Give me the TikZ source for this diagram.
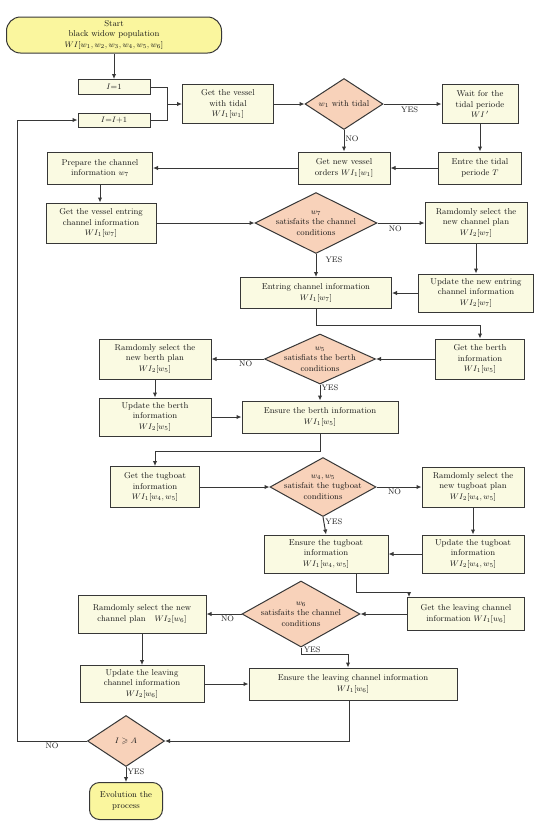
\documentclass[tikz,border=0pt]{standalone}
\usepackage{amssymb}
\usetikzlibrary{shapes.geometric,arrows.meta}
\definecolor{boxfill}{RGB}{250,250,226}
\definecolor{dfill}{RGB}{248,210,186}
\definecolor{sfill}{RGB}{250,246,158}
\definecolor{ln}{RGB}{55,55,55}
\begin{document}
\begin{tikzpicture}[x=1pt,y=-1pt,
  every node/.style={font=\fontsize{8.5}{10.5}\selectfont, text=black!90},
  box/.style={draw=ln, line width=1pt, fill=boxfill, align=center, inner sep=1pt},
  term/.style={draw=ln, line width=1pt, fill=sfill, align=center, rounded corners=12pt, inner sep=1pt},
  dec/.style={draw=ln, line width=1pt, fill=dfill, diamond, inner sep=0pt},
  dtext/.style={align=center, inner sep=0pt},
  arr/.style={draw=ln, line width=1pt, -{Latex[length=5pt,width=4.5pt]}},
  ln/.style={draw=ln, line width=1pt},
  lab/.style={font=\fontsize{8}{9}\selectfont, inner sep=1pt}]
\useasboundingbox (0,0) rectangle (550,828);
\fill[white] (0,0) rectangle (550,828);

\node[term, minimum width=215pt, minimum height=36pt, rounded corners=14pt] (start) at (114,35) {Start\\black widow population\\$WI[w_1,w_2,w_3,w_4,w_5,w_6]$};
\node[box, minimum width=72pt, minimum height=15pt] (i1) at (114,87) {$I{=}1$};
\node[box, minimum width=72pt, minimum height=14pt] (ii) at (114,120) {$I{=}I{+}1$};
\node[box, minimum width=91pt, minimum height=39pt] (gv) at (228,104) {Get the vessel\\with tidal\\$WI_1[w_1]$};
\node[dec, minimum width=78pt, minimum height=51pt] (d1) at (344,104) {};
\node[dtext] (d1t) at (d1) {$w_1$ with tidal};
\node[box, minimum width=76pt, minimum height=39pt] (wt) at (480,104) {Wait for the\\tidal periode\\$WI\,'$};
\node[box, minimum width=83pt, minimum height=32pt] (et) at (480,168) {Entre the tidal\\periode $T$};
\node[box, minimum width=92pt, minimum height=32pt] (gn) at (344,168) {Get new vessel\\orders $WI_1[w_1]$};
\node[box, minimum width=105pt, minimum height=32pt] (pc) at (100,168) {Prepare the channel\\information $w_7$};
\node[box, minimum width=110pt, minimum height=40pt] (ge) at (101,223) {Get the vessel entring\\channel information\\$WI_1[w_7]$};
\node[dec, minimum width=122pt, minimum height=61pt] (d2) at (316,223) {};
\node[dtext] (d2t) at (d2) {$w_7$\\satisfaits the channel\\conditions};
\node[box, minimum width=102pt, minimum height=41pt] (rc) at (476,223) {Ramdomly select the\\new channel plan\\$WI_2[w_7]$};
\node[box, minimum width=115pt, minimum height=38pt] (uc) at (476,293) {Update the new entring\\channel information\\$WI_2[w_7]$};
\node[box, minimum width=151pt, minimum height=31pt] (ec) at (316,293) {Entring channel information\\$WI_1[w_7]$};
\node[box, minimum width=89pt, minimum height=40pt] (gb) at (480,359) {Get the berth\\information\\$WI_1[w_5]$};
\node[dec, minimum width=111pt, minimum height=50pt] (d3) at (320,359) {};
\node[dtext] (d3t) at (d3) {$w_5$\\satisfiats the berth\\conditions};
\node[box, minimum width=112pt, minimum height=40pt] (rb) at (155,359) {Ramdomly select the\\new berth plan\\$WI_2[w_5]$};
\node[box, minimum width=112pt, minimum height=38pt] (ub) at (155,417) {Update the berth\\information\\$WI_2[w_5]$};
\node[box, minimum width=156pt, minimum height=32pt] (eb) at (320,417) {Ensure the berth information\\$WI_1[w_5]$};
\node[box, minimum width=89pt, minimum height=41pt] (gt) at (155,487) {Get the tugboat\\information\\$WI_1[w_4,w_5]$};
\node[dec, minimum width=106pt, minimum height=59pt] (d4) at (323,487) {};
\node[dtext] (d4t) at (d4) {$w_4,w_5$\\satisfait the tugboat\\conditions};
\node[box, minimum width=102pt, minimum height=40pt] (rt) at (473,487) {Ramdomly select the\\new tugboat plan\\$WI_2[w_4,w_5]$};
\node[box, minimum width=102pt, minimum height=38pt] (ut) at (473,554) {Update the tugboat\\information\\$WI_2[w_4,w_5]$};
\node[box, minimum width=124pt, minimum height=38pt] (etg) at (326,554) {Ensure the tugboat\\information\\$WI_1[w_4,w_5]$};
\node[box, minimum width=117pt, minimum height=33pt] (gl) at (466,614) {Get the leaving channel\\information $WI_1[w_6]$};
\node[dec, minimum width=118pt, minimum height=66pt] (d5) at (301,614) {};
\node[dtext] (d5t) at (d5) {$w_6$\\satisfaits the channel\\conditions};
\node[box, minimum width=128pt, minimum height=38pt] (rl) at (142,614) {Ramdomly select the new\\channel plan \ \ $WI_2[w_6]$};
\node[box, minimum width=124pt, minimum height=37pt] (ul) at (142,684) {Update the leaving\\channel information\\$WI_2[w_6]$};
\node[box, minimum width=208pt, minimum height=32pt] (el) at (353,684) {Ensure the leaving channel information\\$WI_1[w_6]$};
\node[dec, minimum width=77pt, minimum height=51pt] (d6) at (126,741) {};
\node[dtext] (d6t) at (d6) {$I\geqslant A$};
\node[term, minimum width=73pt, minimum height=37pt, rounded corners=10pt] (ev) at (126,801) {Evolution the\\process};

% connectors
\draw[arr] (start.south) -- (i1.north);
\coordinate (j1) at (167,104);
\draw[ln] (i1.east) -| (j1);
\draw[ln] (ii.east) -| (j1);
\draw[arr] (j1) -- (gv.west);
\draw[arr] (gv.east) -- (d1.west);
\draw[arr] (d1.east) -- node[lab, below, pos=0.45, yshift=-1pt]{YES} (wt.west);
\draw[arr] (wt.south) -- (et.north);
\draw[arr] (et.west) -- (gn.east);
\draw[arr] (d1.south) -- node[lab, right, pos=0.4]{NO} (gn.north);
\draw[arr] (gn.west) -- (pc.east);
\draw[arr] (pc.south) -- (pc.south |- ge.north);
\draw[arr] (ge.east) -- (d2.west);
\draw[arr] (d2.east) -- node[lab, below, pos=0.38, yshift=-1pt]{NO} (rc.west);
\draw[arr] (rc.south) -- (rc.south |- uc.north);
\draw[arr] (uc.west) -- (ec.east);
\draw[arr] (d2.south) -- node[lab, right, pos=0.25, xshift=8pt]{YES} (ec.north);
\draw[arr] (ec.south) -- ++(0,16) -| (gb.north);
\draw[arr] (gb.west) -- (d3.east);
\draw[arr] (d3.west) -- node[lab, below, pos=0.35]{NO} (rb.east);
\draw[arr] (rb.south) -- (ub.north);
\draw[arr] (ub.east) -- (eb.west);
\draw[arr] (d3.south) -- node[lab, right, pos=0.2]{YES} (eb.north);
\draw[arr] (eb.south) -- ++(0,18) -| (gt.north);
\draw[arr] (gt.east) -- (d4.west);
\draw[arr] (d4.east) -- node[lab, below, pos=0.4]{NO} (rt.west);
\draw[arr] (rt.south) -- (ut.north);
\draw[arr] (ut.west) -- (etg.east);
\draw[arr] (d4.south) -- node[lab, right, pos=0.3]{YES} (etg.north);
\coordinate (k) at (409,592);
\draw[ln] ([xshift=30pt]etg.south) |- (k);
\draw[arr] (k) -- (k |- gl.north);
\draw[arr] (gl.west) -- (d5.east);
\draw[arr] (d5.west) -- node[lab, below, pos=0.4]{NO} (rl.east);
\draw[arr] (rl.south) -- (ul.north);
\draw[arr] (ul.east) -- (el.west);
\coordinate (m) at (348,654);
\draw[arr] (d5.south) |- node[lab, above, pos=0.62]{YES} (m) -- (m |- el.north);
\draw[arr] ([xshift=-4pt]el.south) |- (d6.east);
\coordinate (lft) at (17,741);
\draw[arr] (d6.west) -- node[lab, below, pos=0.5]{NO} (lft) |- (ii.west);
\draw[arr] (d6.south) -- node[lab, right, pos=0.35]{YES} (ev.north);
\end{tikzpicture}
\end{document}
